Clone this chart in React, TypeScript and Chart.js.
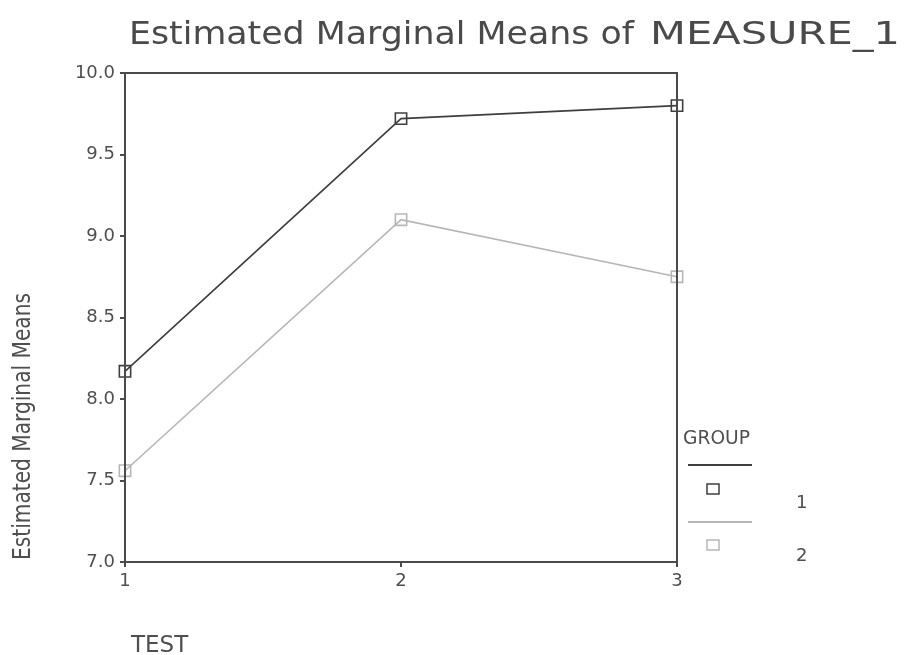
import React, { useEffect, useRef } from "react";
import { Chart, registerables } from "chart.js";

Chart.register(...registerables);

const categories = ["1", "2", "3"];
const group1 = [8.17, 9.72, 9.8];
const group2 = [7.56, 9.1, 8.75];
const seriesLabels = ["1", "2"];
const yMin = 7.0;
const yMax = 10.0;
const yStep = 0.5;

const chartTitleA = "Estimated Marginal Means of";
const chartTitleB = "MEASURE_1";
const yTitle = "Estimated Marginal Means";
const xTitle = "TEST";
const legendTitle = "GROUP";

const TEXT = "#4f4f4f";
const AXIS = "#4a4a4a";
const C1 = "#3f3f3f";
const C2 = "#b6b6b6";
const FONT = "'DejaVu Sans', Verdana, sans-serif";

function fitText(ctx: CanvasRenderingContext2D, text: string, x: number, y: number, width: number, font: string) {
  ctx.save();
  ctx.font = font;
  const w = ctx.measureText(text).width;
  ctx.translate(x, y);
  ctx.scale(width / w, 1);
  ctx.fillText(text, 0, 0);
  ctx.restore();
}

const decor = {
  id: "decor",
  afterDraw(chart: any) {
    const ctx: CanvasRenderingContext2D = chart.ctx;
    const a = chart.chartArea;
    ctx.save();
    // frame
    ctx.strokeStyle = AXIS;
    ctx.lineWidth = 2;
    ctx.strokeRect(a.left, a.top, a.right - a.left, a.bottom - a.top);

    ctx.textAlign = "left";
    ctx.textBaseline = "alphabetic";
    // title
    ctx.fillStyle = "#4a4a4a";
    fitText(ctx, chartTitleA, 129, 44, 505, "32px " + FONT);
    fitText(ctx, chartTitleB, 650, 44, 250, "32px " + FONT);
    ctx.fillStyle = TEXT;
    // x title
    ctx.font = "23px " + FONT;
    ctx.fillText(xTitle, 131, 652);
    // y title (rotated)
    ctx.save();
    ctx.translate(30, 560);
    ctx.rotate(-Math.PI / 2);
    fitText(ctx, yTitle, 0, 0, 267, "24px 'Liberation Sans Narrow', 'DejaVu Sans Condensed', sans-serif");
    ctx.restore();

    // legend
    fitText(ctx, legendTitle, 683, 444, 67, "20px " + FONT);
    const ds = chart.data.datasets;
    const rows = [
      { lineY: 465, sqY: 489, labY: 508 },
      { lineY: 522, sqY: 545, labY: 561 },
    ];
    rows.forEach((r, i) => {
      const d = ds[i];
      ctx.strokeStyle = d.borderColor;
      ctx.lineWidth = 2;
      ctx.beginPath();
      ctx.moveTo(688, r.lineY);
      ctx.lineTo(752, r.lineY);
      ctx.stroke();
      ctx.lineWidth = 1.5;
      ctx.strokeRect(707, r.sqY - 5, 12, 10);
      ctx.fillStyle = TEXT;
      ctx.font = "18px " + FONT;
      ctx.fillText(d.label, 796, r.labY);
    });
    ctx.restore();
  },
};

export default function App() {
  const ref = useRef<HTMLCanvasElement | null>(null);
  useEffect(() => {
    if (!ref.current) return;
    const chart = new Chart(ref.current, {
      type: "line",
      data: {
        labels: categories,
        datasets: [
          {
            label: seriesLabels[0],
            data: group1,
            borderColor: C1,
            backgroundColor: "rgba(255,255,255,0)",
            borderWidth: 1.6,
            pointStyle: "rect",
            pointRadius: 8,
            pointBorderWidth: 1.6,
            pointBorderColor: C1,
            pointBackgroundColor: "rgba(255,255,255,0)",
            tension: 0,
          },
          {
            label: seriesLabels[1],
            data: group2,
            borderColor: C2,
            backgroundColor: "rgba(255,255,255,0)",
            borderWidth: 1.6,
            pointStyle: "rect",
            pointRadius: 8,
            pointBorderWidth: 1.6,
            pointBorderColor: C2,
            pointBackgroundColor: "rgba(255,255,255,0)",
            tension: 0,
          },
        ],
      },
      options: {
        animation: false,
        responsive: false,
        maintainAspectRatio: false,
        layout: { padding: { top: 73, right: 229, left: 0, bottom: 0 } },
        plugins: {
          legend: { display: false },
          title: { display: false },
          tooltip: { enabled: false },
        },
        scales: {
          x: {
            type: "category",
            offset: false,
            grid: { display: true, drawOnChartArea: false, drawTicks: true, tickLength: 5, color: AXIS, lineWidth: 2 },
            border: { display: true, color: AXIS, width: 2 },
            ticks: { color: TEXT, padding: 4, font: { family: FONT, size: 18 } },
            afterFit: (s: any) => { s.height = 93; },
          },
          y: {
            min: yMin,
            max: yMax,
            grid: { display: true, drawOnChartArea: false, drawTicks: true, tickLength: 5, color: AXIS, lineWidth: 2 },
            border: { display: true, color: AXIS, width: 2 },
            ticks: {
              stepSize: yStep,
              color: TEXT,
              padding: 5,
              font: { family: FONT, size: 18 },
              callback: (v: any) => Number(v).toFixed(1),
            },
            afterFit: (s: any) => { s.width = 125; },
          },
        },
      },
      plugins: [decor],
    });
    return () => chart.destroy();
  }, []);
  return (
    <div style={{ position: "fixed", left: 0, top: 0, width: 906, height: 655, background: "#fff" }}>
      <canvas ref={ref} width={906} height={655} style={{ display: "block" }} />
    </div>
  );
}
